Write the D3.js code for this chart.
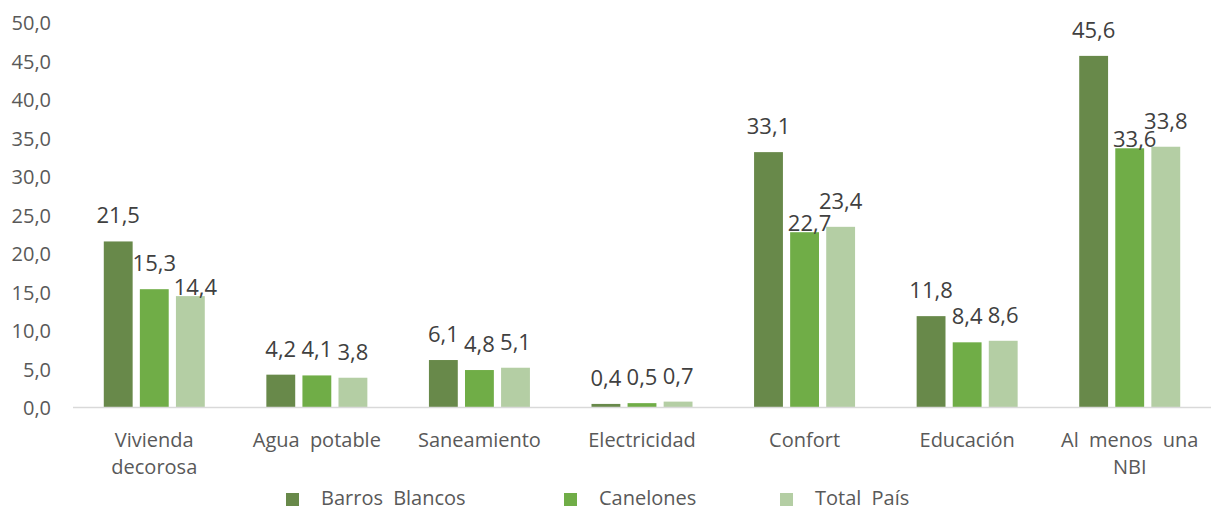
<!DOCTYPE html>
<html><head><meta charset="utf-8">
<script src="https://cdn.jsdelivr.net/npm/d3@7"></script>
<style>body{margin:0;background:#fff}svg{font-family:"Open Sans",sans-serif}</style>
</head><body><svg id="c" width="1219" height="511"></svg>
<script>
const categories = [["Vivienda","decorosa"],["Agua potable"],["Saneamiento"],["Electricidad"],["Confort"],["Educación"],["Al menos una","NBI"]];
const seriesNames = ["Barros Blancos","Canelones","Total País"];
const barrosBlancos = [21.5,4.2,6.1,0.4,33.1,11.8,45.6];
const canelones = [15.3,4.1,4.8,0.5,22.7,8.4,33.6];
const totalPais = [14.4,3.8,5.1,0.7,23.4,8.6,33.8];
const yTicks = [0,5,10,15,20,25,30,35,40,45,50];
const colors = ["#68894A","#70AD47","#B4CEA4"];
const series = [barrosBlancos,canelones,totalPais];

const svg = d3.select("#c");
const fmt = v => v.toFixed(1).replace(".", ",");
const x0 = d3.scaleBand().domain(d3.range(categories.length)).range([73,1211]);
const x1 = d3.scaleBand().domain(d3.range(3)).range([0,101]).paddingInner(0.2);
const y = d3.scaleLinear().domain([0,50]).range([407,22]);

// y axis labels
const yAxis = d3.axisLeft(y).tickValues(yTicks).tickFormat(fmt).tickSize(0).tickPadding(0);
const ga = svg.append("g").attr("transform","translate(51,1.5)").call(yAxis);
ga.select(".domain").remove();
ga.selectAll("text").attr("fill","#595959").style("font-size","20px").style("font-family","Open Sans");

const gx = i => x0(i)+(x0.bandwidth()-101)/2;
// bars
series.forEach((vals,s)=>{
  svg.append("g").selectAll("rect").data(vals).join("rect")
    .attr("x",(d,i)=>gx(i)+x1(s)).attr("width",x1.bandwidth())
    .attr("y",d=>y(d)).attr("height",d=>y(0)-y(d))
    .attr("fill",colors[s]);
});

// x axis line
svg.append("line").attr("x1",73).attr("x2",1211).attr("y1",407.5).attr("y2",407.5).attr("stroke","#D9D9D9").attr("stroke-width",1.5);

// data labels with simple collision handling between adjacent labels
const LW = 44, LH = 16;
categories.forEach((c,i)=>{
  const labs = series.map((vals,s)=>({v:vals[i], cx:gx(i)+x1(s)+x1.bandwidth()/2, by:y(vals[i])-18, dx:0}));
  for(let s=0;s<2;s++){
    const a=labs[s], b=labs[s+1];
    const w = (fmt(a.v).length+fmt(b.v).length)/8*LW;
    if(Math.abs((b.cx+b.dx)-(a.cx+a.dx))<w-2 && Math.abs(b.by-a.by)<LH){
      const lo = a.v<b.v ? a : b;
      lo.by = y(lo.v)-1; lo.dx = 5;
    }
  }
  svg.append("g").selectAll("text").data(labs).join("text")
    .attr("x",d=>d.cx+d.dx).attr("y",d=>d.by)
    .attr("text-anchor","middle").attr("fill","#404040").style("font-size","22px")
    .text(d=>fmt(d.v));
});

// category labels
svg.append("g").selectAll("text").data(categories).join("text")
  .attr("text-anchor","middle").attr("fill","#595959").style("font-size","20px").style("word-spacing","5px")
  .each(function(d,i){
    d3.select(this).selectAll("tspan").data(d).join("tspan")
      .attr("x",x0(i)+x0.bandwidth()/2).attr("y",(t,k)=>447+k*27).text(t=>t);
  });

// legend
const legX = [286,564,780];
const lg = svg.append("g").selectAll("g").data(seriesNames).join("g").attr("transform",(d,i)=>`translate(${legX[i]},0)`);
lg.append("rect").attr("x",0).attr("y",493).attr("width",13).attr("height",13).attr("fill",(d,i)=>colors[i]);
lg.append("text").attr("x",35).attr("y",505).attr("fill","#595959").style("font-size","20px").style("word-spacing","5px").text(d=>d);
</script></body></html>
